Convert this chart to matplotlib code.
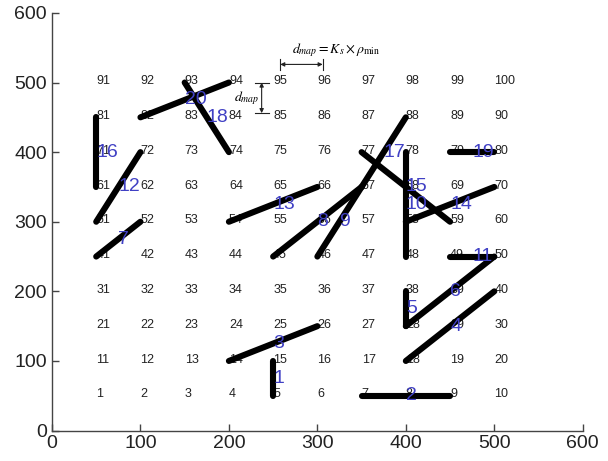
import matplotlib
matplotlib.use("Agg")
import matplotlib.pyplot as plt

# grid node layout: node n sits at column (n-1) % 10, row (n-1) // 10
grid_x = [50, 100, 150, 200, 250, 300, 350, 400, 450, 500]
grid_y = [50, 100, 150, 200, 250, 300, 350, 400, 450, 500]

# path segments, given as start / end node numbers (segment k is labelled k)
seg_start = [5, 7, 14, 18, 28, 28, 41, 45, 46, 48, 49, 51, 54, 58, 77, 81, 67, 93, 79, 82]
seg_end = [15, 9, 26, 40, 38, 50, 52, 67, 67, 78, 50, 72, 66, 70, 59, 61, 88, 74, 80, 94]
seg_labels = [str(i) for i in range(1, 21)]

ticks = [0, 100, 200, 300, 400, 500, 600]


def node_xy(n):
    return grid_x[(n - 1) % 10], grid_y[(n - 1) // 10]


plt.rcParams["font.family"] = ["Liberation Sans", "DejaVu Sans"]
plt.rcParams["mathtext.fontset"] = "stix"

fig = plt.figure(figsize=(6.08, 4.61), dpi=100)
ax = fig.add_axes([0.0855, 0.066, 0.873, 0.906])

# node numbers
for n in range(1, 101):
    x, y = node_xy(n)
    ax.text(x, y + 2, str(n), ha="left", va="center", fontsize=9, color="#222222")

# segments and their labels
for s, e, lab in zip(seg_start, seg_end, seg_labels):
    x0, y0 = node_xy(s)
    x1, y1 = node_xy(e)
    ax.plot([x0, x1], [y0, y1], color="black", lw=4.4, solid_capstyle="round", zorder=3)
    ax.text((x0 + x1) / 2, (y0 + y1) / 2, lab, ha="left", va="center",
            fontsize=14, color="#4040c4", zorder=4)

# d_map spacing annotations
arrow = dict(arrowstyle="<|-|>", color="#222222", lw=0.8, mutation_scale=6, shrinkA=0, shrinkB=0)
ax.annotate("", xy=(258, 526), xytext=(306, 526), arrowprops=arrow)
ax.plot([258, 258], [518, 534], color="#222222", lw=0.8)
ax.plot([306, 306], [518, 534], color="#222222", lw=0.8)
ax.text(271, 547, r"$d_{map} = K_s \times \rho_{\min}$", ha="left", va="center", fontsize=10)

ax.annotate("", xy=(237, 500), xytext=(237, 456), arrowprops=arrow)
ax.plot([229, 245], [500, 500], color="#222222", lw=0.8)
ax.plot([229, 245], [456, 456], color="#222222", lw=0.8)
ax.text(206, 478, r"$d_{map}$", ha="left", va="center", fontsize=10)

ax.set_xlim(0, 600)
ax.set_ylim(0, 600)
ax.set_xticks(ticks)
ax.set_yticks(ticks)
ax.spines["top"].set_visible(False)
ax.spines["right"].set_visible(False)
for side in ("left", "bottom"):
    ax.spines[side].set_color("#444444")
    ax.spines[side].set_linewidth(1.0)
ax.tick_params(direction="in", length=5, width=1.0, color="#444444", labelsize=14, labelcolor="#222222")

fig.savefig("out.png", dpi=100)
